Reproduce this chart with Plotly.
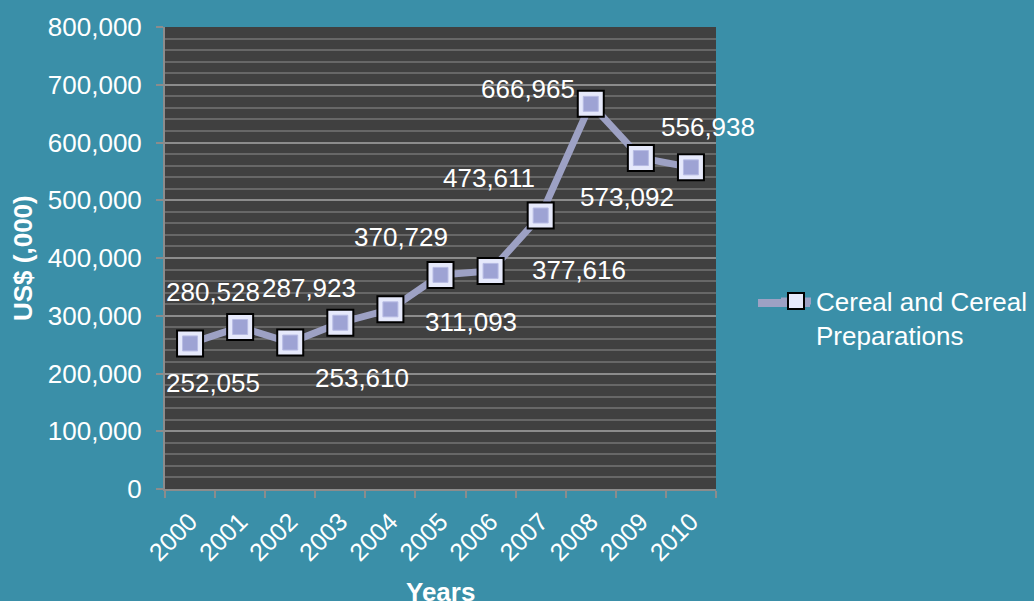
import plotly.graph_objects as go

years = ["2000", "2001", "2002", "2003", "2004", "2005", "2006", "2007", "2008", "2009", "2010"]
values = [252055, 280528, 253610, 287923, 311093, 370729, 377616, 473611, 666965, 573092, 556938]
# label offsets in pixels (dx, dy up)
label_dx = [23, -27, 72, -31, 81, -40, 88, -52, -63, -14, 17]
label_dy = [-40, 35, -35, 35, -13, 38, 1, 37, 15, -39, 40]
series_name = "Cereal and Cereal<br>Preparations"

BG = "#3a8fa8"
FONT = "Liberation Sans, Arial, sans-serif"
LINE_COLOR = "#9da1c4"

PL, PR, PT, PB = 165, 716, 27, 489  # plot area pixels
PW, PH = PR - PL, PB - PT


def px(x):
    return (x - PL) / PW


def py(y):
    return (PB - y) / PH


fig = go.Figure()
fig.add_trace(go.Scatter(
    x=years, y=values, mode="lines+markers", name=series_name,
    line=dict(color=LINE_COLOR, width=7),
    marker=dict(symbol="square", size=26, color="#e6e9fb",
                line=dict(color="#000000", width=2)),
))
fig.add_trace(go.Scatter(
    x=years, y=values, mode="markers", showlegend=False, hoverinfo="skip",
    marker=dict(symbol="square", size=15, color="#9ea3d4",
                line=dict(color="#b8bce4", width=1)),
))

annotations = []
for i, (v, dx, dy) in enumerate(zip(values, label_dx, label_dy)):
    annotations.append(dict(
        x=i, y=v, xref="x", yref="y", text=f"{v:,}", showarrow=False,
        xshift=dx, yshift=dy, font=dict(family=FONT, size=26, color="white"),
    ))
annotations.append(dict(
    x=px(23), y=0.5, xref="paper", yref="paper", text="<b>US$ (,000)</b>",
    textangle=-90, showarrow=False, xanchor="center", yanchor="middle",
    font=dict(family=FONT, size=26, color="white"),
))
annotations.append(dict(
    x=px(440), y=py(592), xref="paper", yref="paper",
    text="<b>Years</b>", showarrow=False, xanchor="center", yanchor="middle",
    font=dict(family=FONT, size=26, color="white"),
))

shapes = [dict(type="line", xref="paper", yref="paper", layer="above",
               x0=px(758), x1=px(810), y0=py(303), y1=py(303),
               line=dict(color=LINE_COLOR, width=8))]

fig.update_layout(
    width=1034, height=601,
    margin=dict(l=PL, r=1034 - PR, t=PT, b=601 - PB, autoexpand=False),
    paper_bgcolor=BG, plot_bgcolor="#404040",
    font=dict(family=FONT, color="white"),
    annotations=annotations,
    shapes=shapes,
    legend=dict(x=px(776), y=py(318), xanchor="left", yanchor="middle", valign="top",
                bgcolor="rgba(0,0,0,0)", font=dict(family=FONT, size=26, color="white")),
    xaxis=dict(
        type="category", range=[-0.5, 10.5], tickson="boundaries", ticks="outside", ticklen=7,
        tickcolor="#8c8c8c", tickwidth=2, showline=True, linecolor="#8c8c8c", linewidth=2,
        showgrid=False, tickangle=-45, ticklabelstandoff=6,
        tickfont=dict(family=FONT, size=25, color="white"),
    ),
    yaxis=dict(
        range=[0, 800000], dtick=100000, tickformat=",", ticks="outside", ticklen=7,
        tickcolor="#8c8c8c", tickwidth=2, showline=True, linecolor="#8c8c8c", linewidth=2,
        gridcolor="#8c8c8c", gridwidth=2, zeroline=False, ticklabelstandoff=9,
        minor=dict(dtick=20000, showgrid=True, gridcolor="#676767", gridwidth=2),
        tickfont=dict(family=FONT, size=26, color="white"),
    ),
)

fig.write_html("out.html")
